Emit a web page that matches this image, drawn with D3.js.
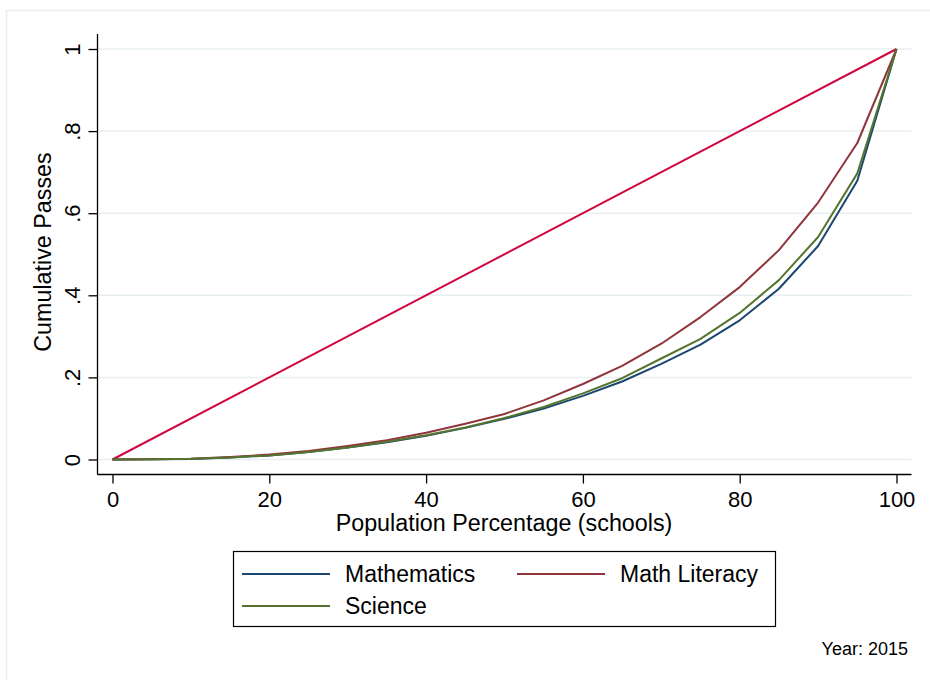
<!DOCTYPE html>
<html lang="en">
<head>
    <meta charset="UTF-8">
    <style>
        body {
            margin: 0;
            background: #fff;
        }
        svg {
            display: block;
            font-family: "Liberation Sans", Arial, Helvetica, sans-serif;
        }
        .grid line {
            stroke: #e8eff2;
            stroke-width: 1.5px;
        }
        .axis path, .axis line {
            stroke: #000;
            stroke-width: 1.3px;
        }
        .axis text {
            font-size: 22px;
            fill: #000;
        }
        .series {
            fill: none;
            stroke-width: 2px;
            stroke-linejoin: round;
        }
        .legend text {
            font-size: 23px;
        }
    </style>
    <script src="https://cdn.jsdelivr.net/npm/d3@7"></script>
</head>
<body>
<svg width="930" height="680"></svg>
<script>
    // population percentage (schools)
    var pct = [0, 5, 10, 15, 20, 25, 30, 35, 40, 45, 50, 55, 60, 65, 70, 75, 80, 85, 90, 95, 100];

    var mathematics = [0, 0.0004, 0.0015, 0.005, 0.010, 0.018, 0.029, 0.042, 0.058, 0.077, 0.099,
        0.124, 0.155, 0.190, 0.233, 0.280, 0.339, 0.416, 0.520, 0.679, 1];
    var mathLiteracy = [0, 0.0005, 0.002, 0.006, 0.012, 0.021, 0.033, 0.047, 0.065, 0.087, 0.111,
        0.144, 0.184, 0.228, 0.282, 0.347, 0.420, 0.510, 0.626, 0.771, 1];
    var science = [0, 0.0004, 0.0016, 0.005, 0.010, 0.018, 0.029, 0.043, 0.059, 0.078, 0.101,
        0.128, 0.161, 0.198, 0.246, 0.294, 0.357, 0.437, 0.542, 0.697, 1];

    // line of equality
    var equality = [[0, 0], [100, 1]];

    var xTicks = [0, 20, 40, 60, 80, 100];
    var yTicks = [0, 0.2, 0.4, 0.6, 0.8, 1];
    var yTickLabels = ["0", ".2", ".4", ".6", ".8", "1"];

    var seriesNames = ["Mathematics", "Math Literacy", "Science"];
    var seriesColors = ["#1a476f", "#90353b", "#55752f"];
    var equalityColor = "#d0073d";

    var svg = d3.select("svg");

    // outer graph frame (runs off the right and bottom)
    svg.append("rect")
        .attr("x", 6.5).attr("y", 10.5)
        .attr("width", 960).attr("height", 700)
        .attr("fill", "none")
        .attr("stroke", "#e8eff2")
        .attr("stroke-width", 1.5);

    var x = d3.scaleLinear().domain([0, 100]).range([112.5, 896.5]);
    var y = d3.scaleLinear().domain([0, 1]).range([459.5, 49]);

    var plotLeft = 97.5, plotRight = 911.5, plotTop = 34, plotBottom = 474.5;

    // grid
    svg.append("g").attr("class", "grid")
        .selectAll("line")
        .data(yTicks).enter()
        .append("line")
        .attr("x1", plotLeft).attr("x2", plotRight)
        .attr("y1", function(d) { return y(d); })
        .attr("y2", function(d) { return y(d); });

    // y axis
    var yAxis = d3.axisLeft(y)
        .tickValues(yTicks)
        .tickSize(9)
        .tickSizeOuter(0)
        .tickFormat(function(d, i) { return yTickLabels[i]; });

    var gy = svg.append("g").attr("class", "axis")
        .attr("transform", "translate(" + plotLeft + ",0)")
        .call(yAxis);
    gy.select(".domain").remove();
    gy.append("line")
        .attr("x1", 0).attr("x2", 0)
        .attr("y1", plotTop).attr("y2", plotBottom);
    gy.selectAll(".tick text")
        .attr("x", null).attr("dy", null)
        .attr("text-anchor", "middle")
        .attr("transform", "translate(-18,0) rotate(-90)");

    // x axis
    var xAxis = d3.axisBottom(x)
        .tickValues(xTicks)
        .tickSize(9)
        .tickSizeOuter(0)
        .tickFormat(d3.format("d"));

    var gx = svg.append("g").attr("class", "axis")
        .attr("transform", "translate(0," + plotBottom + ")")
        .call(xAxis);
    gx.select(".domain").remove();
    gx.append("line")
        .attr("x1", plotLeft).attr("x2", plotRight)
        .attr("y1", 0).attr("y2", 0);
    gx.selectAll(".tick text")
        .attr("dy", null)
        .attr("y", 32);

    // axis titles
    svg.append("text")
        .attr("x", 504).attr("y", 531)
        .attr("text-anchor", "middle")
        .attr("font-size", 23.3)
        .text("Population Percentage (schools)");

    svg.append("text")
        .attr("transform", "translate(51,252) rotate(-90)")
        .attr("text-anchor", "middle")
        .attr("font-size", 23.3)
        .text("Cumulative Passes");

    // curves
    var line = d3.line()
        .x(function(d) { return x(d[0]); })
        .y(function(d) { return y(d[1]); });

    svg.append("path")
        .attr("class", "series")
        .attr("stroke", equalityColor)
        .attr("d", line(equality));

    [mathematics, mathLiteracy, science].forEach(function(vals, i) {
        svg.append("path")
            .attr("class", "series")
            .attr("stroke", seriesColors[i])
            .attr("d", line(pct.map(function(p, j) { return [p, vals[j]]; })));
    });

    // legend
    var legend = svg.append("g").attr("class", "legend");
    legend.append("rect")
        .attr("x", 233.5).attr("y", 551.5)
        .attr("width", 542).attr("height", 75)
        .attr("fill", "#fff")
        .attr("stroke", "#000")
        .attr("stroke-width", 1.2);

    var legendPos = [[242, 574], [517, 574], [242, 606]];
    seriesNames.forEach(function(name, i) {
        var p = legendPos[i];
        legend.append("line")
            .attr("x1", p[0]).attr("x2", p[0] + 88)
            .attr("y1", p[1]).attr("y2", p[1])
            .attr("stroke", seriesColors[i])
            .attr("stroke-width", 2);
        legend.append("text")
            .attr("x", p[0] + 103).attr("y", p[1] + 8)
            .text(name);
    });

    // note
    svg.append("text")
        .attr("x", 908).attr("y", 655)
        .attr("text-anchor", "end")
        .attr("font-size", 18)
        .text("Year: 2015");
</script>
</body>
</html>
